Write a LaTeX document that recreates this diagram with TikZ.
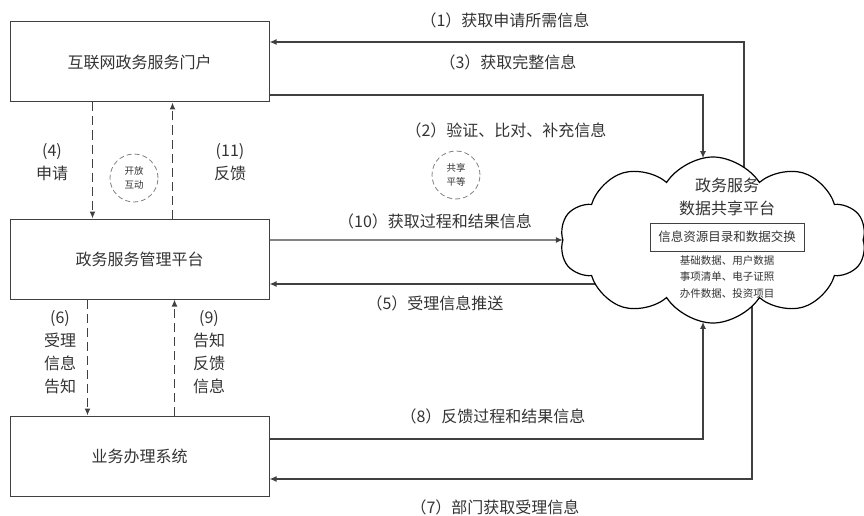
\documentclass[tikz,border=0pt]{standalone}
\usepackage{fontspec}
\setmainfont{Noto Sans CJK SC}
\usetikzlibrary{shapes.symbols,arrows.meta,intersections}
\definecolor{linegray}{HTML}{404040}
\definecolor{textgray}{HTML}{333333}
\begin{document}
\begin{tikzpicture}[x=1pt, y=-1pt,
  every node/.style={text=textgray, font=\fontsize{16}{23}\selectfont, align=center},
  sysbox/.style={draw=linegray, line width=1pt, minimum width=259pt, minimum height=80pt, inner sep=0pt},
  flow/.style={draw=linegray, line width=1.3pt, -{Latex[length=7pt,width=6pt]}},
  dashflow/.style={flow, dash pattern=on 9pt off 5pt},
  ring/.style={circle, draw=gray, dash pattern=on 5pt off 3pt, line width=0.8pt, minimum size=48pt, inner sep=0pt, font=\fontsize{9.5}{14}\selectfont}]
\useasboundingbox (0,0) rectangle (864,516);

% the three systems
\node (portal) at (139.5, 62) [sysbox] {互联网政务服务门户};
\node (platform) at (139.5, 259) [sysbox] {政务服务管理平台};
\node (system) at (139.5, 456) [sysbox] {业务办理系统};

% lines leaving the cloud (hidden under it)
\coordinate (c1) at (744, 200);
\coordinate (c5) at (620, 284);
\coordinate (c7) at (752, 280);
\draw[flow] (c1) |- ([yshift=20pt]portal.east);
\draw[flow] (c5) -- ([yshift=-25pt]platform.east);
\draw[flow] (c7) |- ([yshift=-23pt]system.east);

% the shared platform
\node (cloud) at (713, 240) [cloud, cloud puffs=10, cloud puff arc=115, cloud ignores aspect, draw=black, fill=white, line width=1.2pt, minimum width=306pt, minimum height=166pt, name path=cloudpath] {};
\node (title) at (727, 197) {政务服务\\数据共享平台};
\node (exchange) at (727, 237) [draw=linegray, line width=1pt, minimum width=154pt, minimum height=28pt, inner sep=0pt, font=\fontsize{12.5}{15}\selectfont] {信息资源目录和数据交换};
\node (datalist) at (727, 277) [font=\fontsize{10.5}{16.5}\selectfont] {基础数据、用户数据\\事项清单、电子证照\\办件数据、投资项目};

% arrow ends on the cloud border
\path[name path=v3] (703, 100) -- (703, 215);
\path[name path=h10] (500, 240) -- (640, 240);
\path[name path=v8] (703, 265) -- (703, 380);
\path[name intersections={of=cloudpath and v3, by=a3}];
\path[name intersections={of=cloudpath and h10, by=a10}];
\path[name intersections={of=cloudpath and v8, by=a8}];

\draw[flow] ([yshift=-33pt]portal.east) -| (a3);
\draw[flow] ([yshift=19pt]platform.east) -- (a10);
\draw[flow] ([yshift=17pt]system.east) -| (a8);

% vertical exchanges
\draw[dashflow] ([xshift=-47pt]portal.south) -- ([xshift=-47pt]platform.north);
\draw[dashflow] ([xshift=33pt]platform.north) -- ([xshift=33pt]portal.south);
\draw[dashflow] ([xshift=-52pt]platform.south) -- ([xshift=-52pt]system.north);
\draw[dashflow] ([xshift=35pt]system.north) -- ([xshift=35pt]platform.south);

\node (open) at (134, 178) [ring] {开放\\互动};
\node (share) at (456, 175) [ring] {共享\\平等};

% labels
\node (l1) at (505, 20) {（1）获取申请所需信息};
\node (l3) at (508, 62) {（3）获取完整信息};
\node (l2) at (506, 130) {（2）验证、比对、补充信息};
\node (l10) at (435, 221) {（10）获取过程和结果信息};
\node (l5) at (435, 303) {（5）受理信息推送};
\node (l8) at (493, 416) {（8）反馈过程和结果信息};
\node (l7) at (495, 507) {（7）部门获取受理信息};
\node (l4) at (52, 162) {(4)\\申请};
\node (l11) at (230, 162) {(11)\\反馈};
\node (l6) at (60, 352) {(6)\\受理\\信息\\告知};
\node (l9) at (209, 352) {(9)\\告知\\反馈\\信息};
\end{tikzpicture}
\end{document}
